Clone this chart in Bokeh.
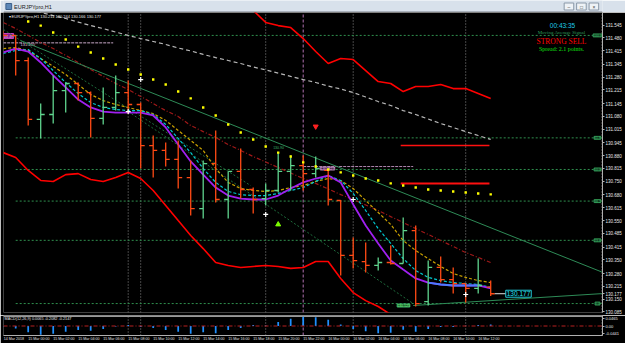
from bokeh.plotting import figure
from bokeh.models import Range1d, LinearAxis, FixedTicker, CustomJSTickFormatter, ColumnDataSource, Span
from bokeh.layouts import column
from bokeh.embed import file_html
from bokeh.resources import INLINE
from bokeh.core.properties import value

# ---------------- data ----------------
bar_index = list(range(40))
opens = [131.503, 131.493, 131.365, 131.065, 131.090, 131.212, 131.248, 131.202, 131.070, 131.126,
         131.202, 131.141, 130.932, 130.907, 130.861, 130.769, 130.611, 130.840, 130.657, 130.800,
         130.708, 130.662, 130.703, 130.800, 130.830, 130.789, 130.805, 130.652, 130.372, 130.341,
         130.321, 130.336, 130.331, 130.499, 130.137, 130.311, 130.249, 130.229, 130.204, 130.211]
highs = [131.518, 131.495, 131.380, 131.146, 131.289, 131.253, 131.253, 131.207, 131.228, 131.289,
         131.263, 131.151, 130.983, 130.947, 130.958, 130.856, 130.856, 131.009, 130.800, 130.917,
         130.718, 130.739, 130.896, 130.881, 130.881, 130.876, 130.808, 130.655, 130.464, 130.438,
         130.362, 130.423, 130.565, 130.525, 130.346, 130.367, 130.311, 130.229, 130.356, 130.244]
lows = [131.467, 131.289, 131.034, 130.968, 131.044, 131.100, 131.161, 130.973, 131.039, 131.110,
        131.095, 130.815, 130.769, 130.825, 130.713, 130.576, 130.560, 130.642, 130.560, 130.662,
        130.586, 130.627, 130.693, 130.703, 130.703, 130.769, 130.627, 130.270, 130.306, 130.285,
        130.295, 130.326, 130.331, 130.112, 130.117, 130.234, 130.178, 130.132, 130.178, 130.166]
closes = [131.493, 131.365, 131.065, 131.090, 131.212, 131.248, 131.202, 131.070, 131.126, 131.202,
          131.141, 130.932, 130.907, 130.861, 130.769, 130.611, 130.840, 130.657, 130.800, 130.708,
          130.657, 130.703, 130.800, 130.830, 130.789, 130.815, 130.657, 130.372, 130.346, 130.321,
          130.336, 130.331, 130.499, 130.127, 130.311, 130.249, 130.229, 130.204, 130.219, 130.177]

ma_purple = [131.406, 131.426, 131.411, 131.355, 131.289, 131.228, 131.166, 131.126, 131.105, 131.100,
             131.100, 131.100, 131.085, 131.024, 130.937, 130.851, 130.784, 130.718, 130.677, 130.662,
             130.657, 130.657, 130.677, 130.713, 130.744, 130.764, 130.779, 130.744, 130.632, 130.525,
             130.433, 130.346, 130.300, 130.255, 130.234, 130.224, 130.219, 130.219, 130.219, 130.204]
ma_cyan = [131.401, 131.416, 131.421, 131.375, 131.314, 131.253, 131.197, 131.151, 131.126, 131.116,
           131.110, 131.110, 131.090, 131.039, 130.968, 130.896, 130.815, 130.744, 130.698, 130.682,
           130.677, 130.677, 130.688, 130.703, 130.718, 130.749, 130.779, 130.754, 130.688, 130.601,
           130.509, 130.433, 130.356, 130.295, 130.260, 130.244, 130.234, 130.229, 130.224, 130.209]
ma_gold = [131.426, 131.431, 131.416, 131.375, 131.335, 131.294, 131.243, 131.192, 131.161, 131.141,
           131.126, 131.110, 131.095, 131.060, 131.009, 130.958, 130.907, 130.815, 130.744, 130.713,
           130.703, 130.698, 130.703, 130.718, 130.728, 130.749, 130.764, 130.754, 130.713, 130.652,
           130.591, 130.530, 130.448, 130.397, 130.356, 130.316, 130.280, 130.260, 130.244, 130.234]
ma_darkred = [131.559, 131.528, 131.493, 131.457, 131.426, 131.391, 131.355, 131.319, 131.284, 131.248,
              131.217, 131.182, 131.146, 131.110, 131.080, 131.034, 131.003, 130.973, 130.937, 130.907,
              130.876, 130.848, 130.820, 130.792, 130.764, 130.739, 130.711, 130.682, 130.657, 130.629,
              130.601, 130.570, 130.540, 130.509, 130.479, 130.448, 130.418, 130.387, 130.362, 130.336]
ma_gray = [131.661, 131.645, 131.625, 131.610, 131.594, 131.579, 131.561, 131.543, 131.528, 131.510,
           131.493, 131.477, 131.462, 131.447, 131.429, 131.414, 131.396, 131.380, 131.365, 131.350,
           131.332, 131.317, 131.301, 131.284, 131.268, 131.253, 131.235, 131.220, 131.202, 131.179,
           131.156, 131.136, 131.110, 131.090, 131.067, 131.044, 131.024, 131.003, 130.983, 130.963]
flat_bars = [34, 35, 36, 37, 38]
flat_values = [130.234, 130.224, 130.219, 130.219, 130.219]

upper_bars = list(range(20, 40))
upper_band = [131.620, 131.559, 131.543, 131.533, 131.477, 131.411, 131.350, 131.375, 131.370, 131.314,
              131.258, 131.248, 131.207, 131.233, 131.233, 131.243, 131.222, 131.222, 131.197, 131.172]
lower_bars = list(range(0, 33))
lower_band = [130.896, 130.871, 130.805, 130.754, 130.749, 130.784, 130.789, 130.759, 130.749, 130.769,
              130.795, 130.764, 130.703, 130.627, 130.550, 130.474, 130.407, 130.336, 130.321, 130.311,
              130.316, 130.321, 130.316, 130.306, 130.311, 130.341, 130.341, 130.255, 130.183, 130.142,
              130.112, 130.071, 130.030]

sar_bars = list(range(2, 40))
sar_values = [131.564, 131.543, 131.508, 131.472, 131.436, 131.406, 131.375, 131.345, 131.319, 131.294,
              131.268, 131.243, 131.207, 131.172, 131.126, 131.085, 131.039, 130.998, 130.963, 130.927,
              130.896, 130.876, 130.846, 130.825, 130.810, 130.795, 130.779, 130.764, 130.754, 130.739,
              130.728, 130.718, 130.708, 130.703, 130.698, 130.693, 130.688, 130.683]

signal_bars = [10, 11, 21, 28, 37]
signal_prices = [131.105, 131.268, 130.581, 130.657, 130.173]
sell_arrow_bar = [25]
sell_arrow_price = [131.029]
buy_arrow_bar = [22]
buy_arrow_price = [130.530]

fib_prices = [131.493, 130.971, 130.810, 130.649, 130.449, 130.127]
fib_labels = ["100.0", "61.8", "50.0", "38.2", "23.6", "0.0"]

trend_x = [1.38, 48.0]
trend_y = [131.467, 130.285]
channel_x = [10, 32.8]
channel_y = [131.105, 130.127]
channel2_x = [0.02, 19.8]
channel2_y = [131.523, 130.728]
support_x = [32.8, 48.0]
support_y = [130.117, 130.178]
level_a_x = [0.0, 8.8]
level_a_y = [131.455, 131.455]
level_b_x = [24.0, 32.8]
level_b_y = [130.825, 130.825]
red_seg_x = [31.8, 38.9]
red_seg_y = [130.739, 130.739]
red_seg2_y = [130.932, 130.932]

vlines = [10, 11, 21, 28, 37, 47.9]
session_line = [24]

macd_hist = [-0.006, -0.016, -0.039, -0.054, -0.048, -0.035, -0.025, -0.029, -0.019, -0.003,
             0.006, -0.006, -0.013, -0.025, -0.035, -0.048, -0.039, -0.045, -0.025, -0.013,
             0.006, 0.003, 0.025, 0.045, 0.058, 0.054, 0.039, 0.010, -0.019, -0.033,
             -0.045, -0.042, -0.023, -0.035, -0.019, -0.006, -0.006, 0.002, 0.006, 0.010]

last_price = 130.177
price_ticks = [131.545, 131.480, 131.415, 131.345, 131.280, 131.215, 131.145, 131.080, 131.015, 130.945,
               130.880, 130.815, 130.750, 130.680, 130.615, 130.550, 130.485, 130.415, 130.350, 130.280,
               130.215, 130.150, 130.085]
macd_ticks = [0.0465, 0.0, -0.0441]
macd_tick_labels = ["0.0465", "0.00", "-0.0441"]
time_ticks = list(range(0, 40, 2))
time_labels = ["14 Mar 2018", "15 Mar 00:00", "15 Mar 02:00", "15 Mar 04:00", "15 Mar 06:00",
               "15 Mar 08:00", "15 Mar 10:00", "15 Mar 12:00", "15 Mar 14:00", "15 Mar 16:00",
               "15 Mar 18:00", "15 Mar 20:00", "15 Mar 22:00", "16 Mar 00:00", "16 Mar 02:00",
               "16 Mar 04:00", "16 Mar 06:00", "16 Mar 08:00", "16 Mar 10:00", "16 Mar 12:00"]

# ---------------- layout helpers (pixel -> data for annotations) ----------------
def px_x(px):
    return (px - 2.7) / 12.5

def px_y(py):
    return 131.6708 - 0.0050943 * py

X0, X1 = 0.024, 47.944
Y0, Y1 = 130.0814, 131.6097
SANS = value("Liberation Sans")
SERIF = value("Liberation Serif")

# ---------------- title bar ----------------
ft = figure(width=625, height=12, x_range=Range1d(0, 625), y_range=Range1d(12, 0),
            output_backend="svg", toolbar_location=None, x_axis_location=None, y_axis_location=None,
            min_border=0, background_fill_color="#D8E1EB", border_fill_color="#D8E1EB",
            outline_line_color=None)
for g in ft.grid:
    g.visible = False
ft.quad(left=[2.5], right=[8.5], top=[3], bottom=[9], fill_color="#5C87B8", line_color="#3A5F8A")
ft.text(x=[11], y=[6.2], text=["EURJPYpro,H1"], text_font=SANS, text_font_size="5.5px",
        text_color="#202020", text_baseline="middle")
ft.quad(left=[585, 598, 611], right=[595, 608, 621], top=[2.5, 2.5, 2.5], bottom=[9.5, 9.5, 9.5],
        fill_color="#EEF2F6", line_color="#8A98A8")
ft.text(x=[590, 603, 616], y=[6, 6, 6], text=["\u2013", "\u25a1", "\u00d7"], text_font=SANS,
        text_font_size="5px", text_color="#404040", text_align="center", text_baseline="middle")
ft.quad(left=[0], right=[625], top=[11], bottom=[12], fill_color="#7A828C", line_color=None)

# ---------------- main chart ----------------
p = figure(width=625, height=303, x_range=Range1d(X0, X1), y_range=Range1d(Y0, Y1),
           output_backend="svg", toolbar_location=None, x_axis_location=None, y_axis_location=None,
           min_border_left=3, min_border_right=23, min_border_top=0, min_border_bottom=3,
           background_fill_color="black", border_fill_color="black", outline_line_color=None)
for g in p.grid:
    g.visible = False

ax = LinearAxis(ticker=FixedTicker(ticks=price_ticks + [last_price]),
                formatter=CustomJSTickFormatter(code="return tick.toFixed(3);"))
ax.axis_line_color = "#B0B0B0"
ax.major_tick_line_color = "#B0B0B0"
ax.major_tick_out = 2
ax.major_tick_in = 0
ax.minor_tick_line_color = None
ax.major_label_standoff = 1
ax.major_label_text_color = "#E8E8E8"
ax.major_label_text_font = "Liberation Sans"
ax.major_label_text_font_size = "4.5px"
p.add_layout(ax, "right")

# vertical separators
p.segment(x0=vlines, x1=vlines, y0=[Y0] * len(vlines), y1=[Y1] * len(vlines),
          line_color="#8C8C8C", line_dash="1 2", line_width=1)
p.segment(x0=session_line, x1=session_line, y0=[Y0], y1=[Y1],
          line_color="#B070B0", line_dash="3 2", line_width=1)

# fibonacci levels
p.segment(x0=[1] * len(fib_prices), x1=[X1] * len(fib_prices), y0=fib_prices, y1=fib_prices,
          line_color="#2F8F4E", line_dash="2 2", line_width=1)
p.text(x=[px_x(597)] * len(fib_prices), y=fib_prices, text=fib_labels, text_font=SANS,
       text_font_size="3.5px", text_color="#3CB371", text_align="center", text_baseline="middle",
       background_fill_color="#0F3A1E", border_line_color="#2F8F4E", padding=0)

# price level lines
p.line(level_a_x, level_a_y, line_color="#C8A8C8", line_dash="3 1", line_width=1)
p.line(level_b_x, level_b_y, line_color="#B088B0", line_dash="3 1", line_width=1)
p.text(x=[px_x(20)], y=[px_y(43.5)], text=["131.450"], text_font=SANS, text_font_size="4px",
       text_color="#E0C0E0", text_baseline="middle")
p.text(x=[px_x(327)], y=[px_y(168)], text=["130.827"], text_font=SANS, text_font_size="4px",
       text_color="#E0B0E0", text_align="center", text_baseline="middle",
       background_fill_color="#402040", border_line_color="#B080B0", padding=0)
p.text(x=[px_x(7.5)], y=[px_y(35.5)], text=["131.49"], text_font=SANS, text_font_size="3px",
       text_color="#F0D0F0", text_align="center", text_baseline="middle",
       background_fill_color="#8B1A8B", border_line_color="#C040C0", padding=1)

# long MAs
p.line(bar_index, ma_gray, line_color="#B8B8B8", line_dash="4 3", line_width=1.2)
p.line(bar_index, ma_darkred, line_color="#A01818", line_dash="4 2 1 2", line_width=1.2)

# trend lines
p.line(trend_x, trend_y, line_color="#2E8B57", line_width=1)
p.line(channel_x, channel_y, line_color="#1E6B3C", line_dash="2 2", line_width=1)
p.line(channel2_x, channel2_y, line_color="#1E6B3C", line_dash="2 2", line_width=1)
p.line(support_x, support_y, line_color="#2E8B57", line_width=1)
p.line(red_seg_x, red_seg2_y, line_color="#FF1010", line_width=1.5)
p.line(red_seg_x, red_seg_y, line_color="#FF1010", line_width=2)

# envelope bands
p.line(upper_bars, upper_band, line_color="#FF0000", line_width=1.6)
p.line(lower_bars, lower_band, line_color="#FF0000", line_width=1.6)

# faster MAs
p.line(bar_index, ma_gold, line_color="#C8A000", line_dash="3 2", line_width=1.2)
p.line(bar_index, ma_cyan, line_color="#00C8D0", line_dash="3 2", line_width=1.2)
p.line(bar_index, ma_purple, line_color="#A020F0", line_width=1.8)
p.line(flat_bars, flat_values, line_color="#4A7CFF", line_width=1.8)

# OHLC bars
bull = [c >= o for o, c in zip(opens, closes)]
src = ColumnDataSource(dict(
    x=bar_index, o=opens, h=highs, l=lows, c=closes,
    xl=[b - 0.32 for b in bar_index], xr=[b + 0.32 for b in bar_index],
    col=["#5FD38D" if b else "#FF4A14" for b in bull]))
p.segment(x0="x", x1="x", y0="l", y1="h", line_color="col", line_width=1.3, source=src)
p.segment(x0="xl", x1="x", y0="o", y1="o", line_color="col", line_width=1.3, source=src)
p.segment(x0="x", x1="xr", y0="c", y1="c", line_color="col", line_width=1.3, source=src)

# current price pointer from the last bar to its label
p.line([bar_index[-1] + 0.32, px_x(506)], [last_price, last_price], line_color="#E0E0E0", line_width=1)

# parabolic SAR dots
p.scatter(sar_bars, sar_values, marker="square", size=2.4, fill_color="#FFFF00", line_color=None)

# signals
p.scatter(signal_bars, signal_prices, marker="cross", size=5, line_color="white", line_width=1.2)
p.scatter(sell_arrow_bar, sell_arrow_price, marker="inverted_triangle", size=5,
          fill_color="#FF2020", line_color="#FF2020")
p.scatter(buy_arrow_bar, buy_arrow_price, marker="triangle", size=5,
          fill_color="#7CFC00", line_color="#7CFC00")

# chart texts
p.text(x=[px_x(8)], y=[px_y(15.5)], text=["\u25be EURJPYpro,H1  130.211 130.244 130.166 130.177"],
       text_font=SANS, text_font_size="4px", text_color="#E8E8E8", text_baseline="middle")
p.text(x=[px_x(562)], y=[px_y(24.5)], text=["00:43:35"], text_font=SANS, text_font_size="6.5px",
       text_color="#1ECBE8", text_align="center", text_baseline="middle")
p.text(x=[px_x(561)], y=[px_y(31.5)], text=["Moving Average Signal"], text_font=SERIF,
       text_font_size="5px", text_color="#2E9B5A", text_align="center", text_baseline="middle")
p.text(x=[px_x(561)], y=[px_y(40.5)], text=["STRONG SELL"], text_font=SERIF,
       text_font_size="7.5px", text_color="#FF0000", text_align="center", text_baseline="middle")
p.text(x=[px_x(561)], y=[px_y(48)], text=["Spread: 2.1 points."], text_font=SERIF,
       text_font_size="6px", text_color="#10E010", text_align="center", text_baseline="middle")
p.text(x=[px_x(518)], y=[last_price], text=["130.177"], text_font=SANS, text_font_size="6.5px",
       text_color="#20E0F0", text_align="center", text_baseline="middle",
       background_fill_color="black", border_line_color="#20C8D8", padding=1)
p.text(x=[px_x(403)], y=[px_y(305)], text=["130.125"], text_font=SANS, text_font_size="3.5px",
       text_color="#7CFC7C", text_align="center", text_baseline="middle",
       background_fill_color="#1E5A2E", border_line_color="#3CB371", padding=0)
p.text(x=[px_x(278)], y=[px_y(147)], text=["130.90"], text_font=SANS, text_font_size="3.5px",
       text_color="#3CB371", text_align="center", text_baseline="middle")

# ---------------- MACD panel ----------------
M0, M1 = -0.0589, 0.0651
m = figure(width=625, height=28, x_range=p.x_range, y_range=Range1d(M0, M1),
           output_backend="svg", toolbar_location=None, x_axis_location=None, y_axis_location=None,
           min_border_left=3, min_border_right=23, min_border_top=0, min_border_bottom=8,
           background_fill_color="black", border_fill_color="black", outline_line_color=None)
for g in m.grid:
    g.visible = False

SEP = 0.0093
m.quad(left=[X0], right=[X1], bottom=[M1 - SEP], top=[M1], fill_color="#9A9A9A", line_color=None)
m.segment(x0=vlines, x1=vlines, y0=[M0] * len(vlines), y1=[M1 - SEP] * len(vlines),
          line_color="#8C8C8C", line_dash="1 2", line_width=1)
m.segment(x0=session_line, x1=session_line, y0=[M0], y1=[M1 - SEP],
          line_color="#B070B0", line_dash="3 2", line_width=1)
m.add_layout(Span(location=0, dimension="width", line_color="#B82020", line_dash="4 2 1 2", line_width=1))
m.vbar(x=bar_index, top=macd_hist, bottom=0, width=0.14, fill_color="#1E90FF", line_color=None)
m.text(x=[px_x(4)], y=[0.043], text=["MACD(12,26,9) 0.0065 -0.2082 -0.2147"], text_font=SANS,
       text_font_size="3.8px", text_color="#E0E0E0", text_baseline="middle")

max_ = LinearAxis(ticker=FixedTicker(ticks=macd_ticks),
                  formatter=CustomJSTickFormatter(args=dict(pos=macd_ticks, labels=macd_tick_labels),
                                                  code="const i = pos.findIndex(v => Math.abs(v - tick) < 1e-9); return i < 0 ? '' : labels[i];"))
max_.axis_line_color = "#B0B0B0"
max_.major_tick_line_color = "#B0B0B0"
max_.major_tick_out = 2
max_.major_tick_in = 0
max_.minor_tick_line_color = None
max_.major_label_standoff = 1
max_.major_label_text_color = "#E8E8E8"
max_.major_label_text_font = "Liberation Sans"
max_.major_label_text_font_size = "4px"
m.add_layout(max_, "right")

shifted = [t + 0.85 for t in time_ticks]
tax = LinearAxis(ticker=FixedTicker(ticks=shifted),
                 formatter=CustomJSTickFormatter(args=dict(pos=shifted, labels=time_labels),
                                                 code="const i = pos.findIndex(v => Math.abs(v - tick) < 1e-9); return i < 0 ? '' : labels[i];"))
tax.axis_line_color = "#B0B0B0"
tax.major_tick_line_color = None
tax.major_tick_out = 1
tax.major_tick_in = 0
tax.minor_tick_line_color = None
tax.major_label_standoff = 0
tax.major_label_text_color = "#E0E0E0"
tax.major_label_text_font = "Liberation Sans"
tax.major_label_text_font_size = "3.6px"
m.add_layout(tax, "below")

# ---------------- bottom window edge ----------------
fb = figure(width=625, height=4, x_range=Range1d(0, 625), y_range=Range1d(0, 4),
            output_backend="svg", toolbar_location=None, x_axis_location=None, y_axis_location=None,
            min_border=0, background_fill_color="#D4DCE6", border_fill_color="#D4DCE6",
            outline_line_color=None)
for g in fb.grid:
    g.visible = False

layout = column(ft, p, m, fb, spacing=0)
open("out.html", "w").write(file_html(layout, INLINE))
